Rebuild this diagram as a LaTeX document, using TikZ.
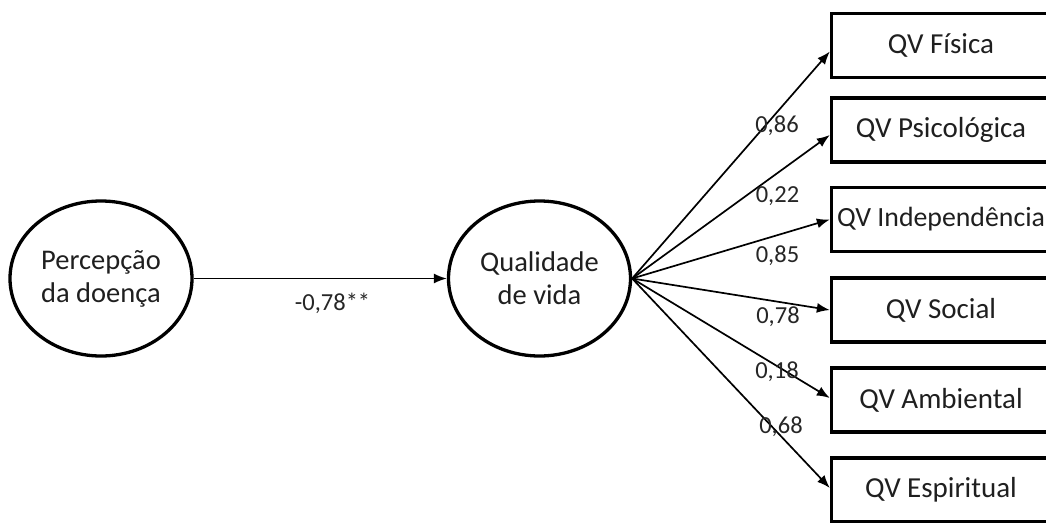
\documentclass[tikz,border=0pt]{standalone}
\usepackage{fontspec}
\setmainfont{Carlito}
\usetikzlibrary{arrows.meta,shapes.geometric}
\begin{document}
\begin{tikzpicture}[x=1pt,y=-1pt,
  latent/.style={draw, ellipse, line width=3.3pt, minimum width=182pt, minimum height=155pt, inner sep=0pt, align=center, text=black!88, font=\fontsize{28.5}{33}\selectfont},
  obs/.style={draw, rectangle, line width=3.3pt, minimum width=219pt, minimum height=64pt, inner sep=0pt, text=black!88, font=\fontsize{29}{34}\selectfont},
  pth/.style={line width=1.7pt, -{Latex[length=13pt,width=10pt]}},
  lbl/.style={anchor=base, inner sep=0pt, text=black!85, font=\fontsize{24.5}{28}\selectfont}]
\useasboundingbox (0,0) rectangle (1046,522);
\clip (0,0) rectangle (1046,522);
\node[latent] (e1) at (101,278.5) {Percepção\\da doença};
\node[latent] (e2) at (539.5,278.5) {Qualidade\\de vida};
\node[obs] (b1) at (941,45.5) {QV Física};
\node[obs] (b2) at (941,130) {QV Psicológica};
\node[obs, font=\fontsize{27.8}{32}\selectfont] (b3) at (941,219.5) {QV Independência};
\node[obs] (b4) at (941,310) {QV Social};
\node[obs] (b5) at (941,400) {QV Ambiental};
\node[obs] (b6) at (941,490) {QV Espiritual};
\draw[pth] (e1) -- (e2);
\draw[pth] (e2.east) -- ([yshift=-6pt]b1.west);
\draw[pth] (e2.east) -- ([yshift=-5pt]b2.west);
\draw[pth] (e2.east) -- (b3.west);
\draw[pth] (e2.east) -- (b4.west);
\draw[pth] (e2.east) -- ([yshift=2pt]b5.west);
\draw[pth] (e2.east) -- ([yshift=2pt]b6.west);
\node[lbl] (l0) at (332.5,310) {-0,78**};
\node[lbl] (l1) at (777,132) {0,86};
\node[lbl] (l2) at (777.5,202) {0,22};
\node[lbl] (l3) at (777.5,262) {0,85};
\node[lbl] (l4) at (778,323) {0,78};
\node[lbl] (l5) at (777,378) {0,18};
\node[lbl] (l6) at (781,433) {0,68};
\end{tikzpicture}
\end{document}
